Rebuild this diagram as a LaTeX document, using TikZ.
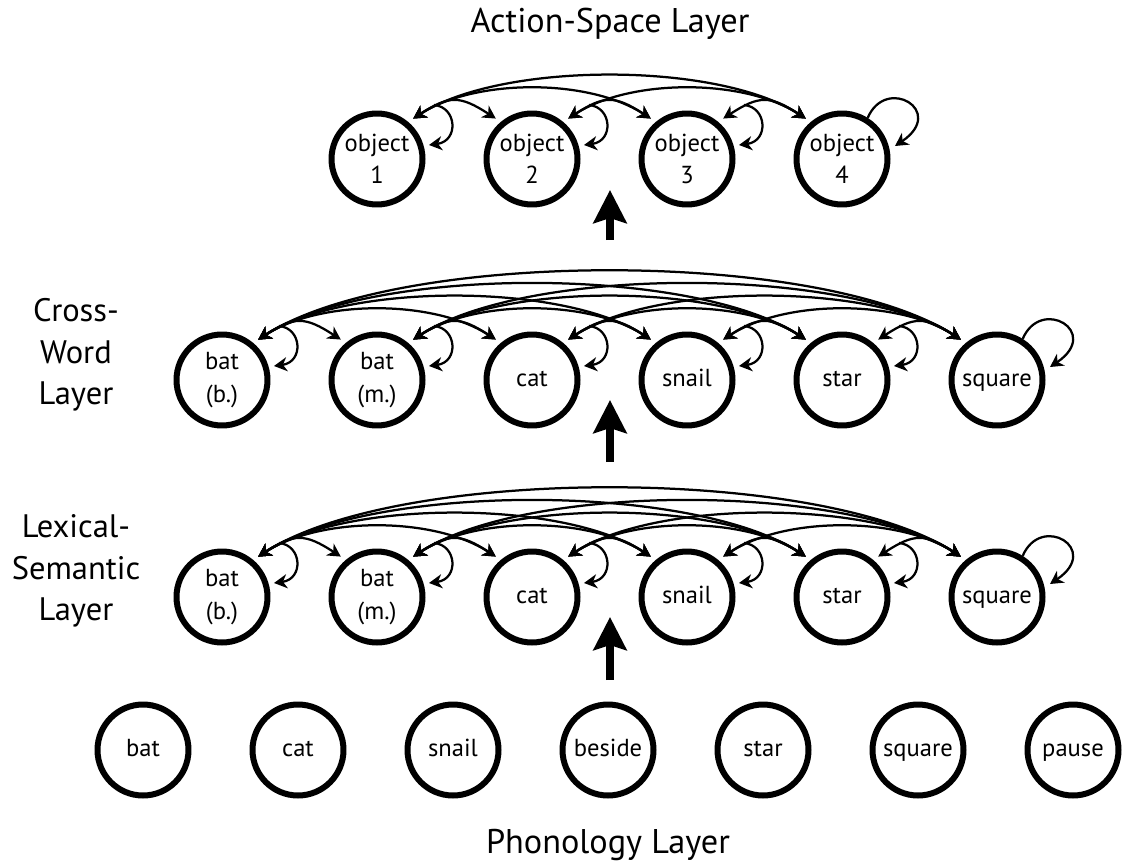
\documentclass[tikz,border=0pt]{standalone}
\usepackage{fontspec}
\setmainfont{PT Sans}
\usetikzlibrary{arrows.meta}

\tikzset{
  unit/.style={circle, draw, line width=0.12cm, minimum size=1.82cm, inner sep=0pt,
    align=center, font=\fontsize{14}{18.5}\selectfont},
  oneline/.style={unit, execute at begin node=\strut, execute at end node=\strut},
  twoline/.style={unit, execute at begin node={\rule{0pt}{22pt}}},
  recur/.style={line width=0.045cm,
    {Stealth[length=0.26cm,width=0.28cm,inset=0.08cm]}-{Stealth[length=0.26cm,width=0.28cm,inset=0.08cm]},
    shorten <=0.12cm, shorten >=0.12cm},
  selfloop/.style={line width=0.045cm, -{Stealth[length=0.26cm,width=0.28cm,inset=0.08cm]}},
  feed/.style={line width=0.16cm, -{Stealth[length=0.66cm,width=0.66cm,inset=0.1cm]}},
  layername/.style={font=\fontsize{18.5}{23.5}\selectfont, align=center},
  toptitle/.style={font=\fontsize{19.5}{23}\selectfont}
}

\begin{document}
\begin{tikzpicture}[x=0.02cm, y=0.02cm]
    \useasboundingbox (0,0) rectangle (1122,867);

    % layer names
    \node[toptitle, anchor=base] (astitle) at (610,834) {Action-Space Layer};
    \node[toptitle, anchor=base] (phtitle) at (608,14) {Phonology Layer};
    \node[layername] (cwtitle) at (76,512) {Cross-\\Word\\Layer};
    \node[layername] (lstitle) at (76,296) {Lexical-\\Semantic\\Layer};

    % action-space layer
    \node[twoline] (as1) at (377,708) {object\\1};
    \node[twoline] (as2) at (532,708) {object\\2};
    \node[twoline] (as3) at (687,708) {object\\3};
    \node[twoline] (as4) at (842,708) {object\\4};

    % cross-word layer
    \node[twoline] (cw1) at (222,487) {bat\\(b.)};
    \node[twoline] (cw2) at (377,487) {bat\\(m.)};
    \node[oneline] (cw3) at (532,487) {cat};
    \node[oneline] (cw4) at (687,487) {snail};
    \node[oneline] (cw5) at (842,487) {star};
    \node[oneline] (cw6) at (997,487) {square};

    % lexical-semantic layer
    \node[twoline] (ls1) at (222,270) {bat\\(b.)};
    \node[twoline] (ls2) at (377,270) {bat\\(m.)};
    \node[oneline] (ls3) at (532,270) {cat};
    \node[oneline] (ls4) at (687,270) {snail};
    \node[oneline] (ls5) at (842,270) {star};
    \node[oneline] (ls6) at (997,270) {square};

    % phonology layer
    \node[oneline] (ph1) at (143,117) {bat};
    \node[oneline] (ph2) at (298,117) {cat};
    \node[oneline] (ph3) at (453,117) {snail};
    \node[oneline] (ph4) at (608,117) {beside};
    \node[oneline] (ph5) at (763,117) {star};
    \node[oneline] (ph6) at (918,117) {square};
    \node[oneline] (ph7) at (1073,117) {pause};

    % recurrent links: every pair, plus a loop back into each unit
    \foreach \lay/\n in {as/4, cw/6, ls/6}{
        \pgfmathtruncatemacro{\last}{\n-1}
        \foreach \i in {1,...,\last}{
            \pgfmathtruncatemacro{\nxt}{\i+1}
            \foreach \j in {\nxt,...,\n}{
                \pgfmathsetmacro{\ctl}{49+31*(\j-\i-1)}
                \draw[recur] (\lay\i.50) .. controls +(33:\ctl) and +(147:\ctl) .. (\lay\j.130);
            }
            \draw[selfloop] ([shift={(57,54)}]\lay\i.center) .. controls ([shift={(80,52)}]\lay\i.center) and ([shift={(82,18)}]\lay\i.center) .. ([shift={(52,14)}]\lay\i.center);
        }
        \draw[selfloop] (\lay\n.58) .. controls ([shift={(44,84)}]\lay\n.center) and ([shift={(105,48)}]\lay\n.center) .. ([shift={(53,13)}]\lay\n.center);
    }

    % feed-forward arrows between layers
    \coordinate (ff1a) at (610,187);
    \coordinate (ff1b) at (610,250);
    \coordinate (ff2a) at (610,405);
    \coordinate (ff2b) at (610,467);
    \coordinate (ff3a) at (610,627);
    \coordinate (ff3b) at (610,677);
    \draw[feed] (ff1a) -- (ff1b);
    \draw[feed] (ff2a) -- (ff2b);
    \draw[feed] (ff3a) -- (ff3b);

\end{tikzpicture}
\end{document}
